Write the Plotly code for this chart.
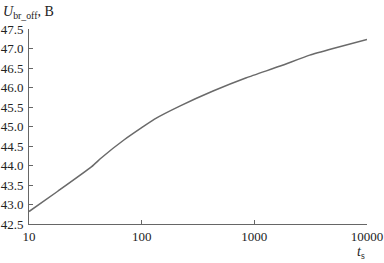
import plotly.graph_objects as go

t_s = [10, 18, 36, 44, 70, 100, 130, 220, 430, 850, 1700, 3100, 5000, 10000]
u_br = [42.82, 43.34, 43.97, 44.2, 44.66, 44.97, 45.19, 45.53, 45.91, 46.25, 46.55, 46.83, 47.0, 47.23]

x_ticks = [10, 100, 1000, 10000]
x_labels = ["10", "100", "1000", "10000"]
y_ticks = [42.5, 43.0, 43.5, 44.0, 44.5, 45.0, 45.5, 46.0, 46.5, 47.0, 47.5]
y_labels = [f"{v:.1f}" for v in y_ticks]

font = dict(family="Liberation Serif, Times New Roman, serif", size=13, color="#222")

fig = go.Figure()
fig.add_trace(go.Scatter(x=t_s, y=u_br, mode="lines",
                         line=dict(color="#6a6a6a", width=1.5, shape="spline", smoothing=0.5),
                         showlegend=False, hoverinfo="skip"))

fig.update_layout(
    width=384, height=263,
    margin=dict(l=29, r=17, t=29, b=39),
    paper_bgcolor="white", plot_bgcolor="white",
    font=font,
    xaxis=dict(type="log", range=[1, 4], tickvals=x_ticks, ticktext=x_labels,
               ticks="inside", ticklen=4, tickwidth=1, tickcolor="#666",
               showline=True, linecolor="#666", linewidth=1, showgrid=False,
               zeroline=False, tickfont=font, automargin=False),
    yaxis=dict(range=[42.5, 47.5], tickvals=y_ticks, ticktext=y_labels,
               ticks="inside", ticklen=4, tickwidth=1, tickcolor="#666",
               showline=True, linecolor="#666", linewidth=1, showgrid=False,
               zeroline=False, tickfont=font, ticklabelstandoff=2, automargin=False),
    annotations=[
        dict(text="<i>U</i><sub>br_off</sub>, B", xref="paper", yref="paper",
             x=-28/338, y=1 + 17/195, xanchor="left", yanchor="middle",
             showarrow=False, font=dict(family=font["family"], size=14, color="#222")),
        dict(text="<i>t</i><sub>s</sub>", xref="paper", yref="paper",
             x=1.0, y=-28/195, xanchor="right", yanchor="middle",
             showarrow=False, font=dict(family=font["family"], size=14, color="#222")),
    ],
)

fig.write_html("out.html")
